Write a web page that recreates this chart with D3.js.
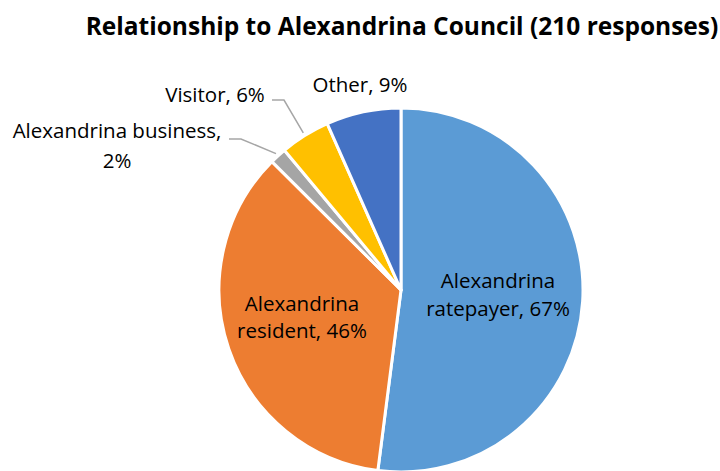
<!DOCTYPE html>
<html>
<head>
<meta charset="utf-8">
<script src="https://cdn.jsdelivr.net/npm/d3@7"></script>
<style>
  body { margin: 0; background: #fff; }
  text { font-family: "Open Sans", "Noto Sans", sans-serif; fill: #000; }
</style>
</head>
<body>
<div id="chart"></div>
<script>
const title = 'Relationship to Alexandrina Council (210 responses)';
const categories = ['Alexandrina ratepayer', 'Alexandrina resident', 'Alexandrina business', 'Visitor', 'Other'];
// estimated response counts (slice sizes), and the percentages shown on the labels
const counts = [141, 96, 4, 12, 18];
const percents = [67, 46, 2, 6, 9];
const colors = ['#5B9BD5', '#ED7D31', '#A5A5A5', '#FFC000', '#4472C4'];

const width = 720, height = 471;
const cx = 401, cy = 290, radius = 182;

const svg = d3.select('#chart').append('svg')
  .attr('width', width)
  .attr('height', height);

svg.append('text')
  .attr('x', 402)
  .attr('y', 35)
  .attr('text-anchor', 'middle')
  .style('font-size', '24.5px')
  .style('font-weight', 'bold')
  .text(title);

const data = categories.map((c, i) => ({ name: c, value: counts[i], pct: percents[i], color: colors[i] }));

const pie = d3.pie().sort(null).value(d => d.value);
const arcs = pie(data);
const arc = d3.arc().innerRadius(0).outerRadius(radius);

const g = svg.append('g').attr('transform', `translate(${cx},${cy})`);

g.selectAll('path')
  .data(arcs)
  .enter().append('path')
  .attr('d', arc)
  .attr('fill', d => d.data.color)
  .attr('stroke', '#fff')
  .attr('stroke-width', 3)
  .attr('stroke-linejoin', 'round');

const fs = 20.5;

// label placement (text anchor x, first baseline y, line step)
const labelLayout = [
  { lines: ['Alexandrina', 'ratepayer, 67%'], x: 498, y: 288, step: 28 },
  { lines: ['Alexandrina', 'resident, 46%'], x: 302, y: 311, step: 27 },
  { lines: ['Alexandrina business,', '2%'], x: 117, y: 138, step: 30, lx: 229, ly: 139 },
  { lines: ['Visitor, 6%'], x: 215, y: 102, step: 30, lx: 272, ly: 100 },
  { lines: ['Other, 9%'], x: 360, y: 92, step: 30 }
];

const edge = d3.arc().innerRadius(radius + 3).outerRadius(radius + 3);

labelLayout.forEach((o, i) => {
  const t = svg.append('text')
    .attr('text-anchor', 'middle')
    .style('font-size', fs + 'px');
  o.lines.forEach((l, k) => {
    t.append('tspan').attr('x', o.x).attr('y', o.y + k * o.step).text(l);
  });
  if (o.lx !== undefined) {
    const [ex, ey] = edge.centroid(arcs[i]);
    svg.append('path')
      .attr('d', `M${o.lx},${o.ly}H${o.lx + 12}L${cx + ex},${cy + ey}`)
      .attr('fill', 'none')
      .attr('stroke', '#A6A6A6')
      .attr('stroke-width', 1.5);
  }
});
</script>
</body>
</html>
